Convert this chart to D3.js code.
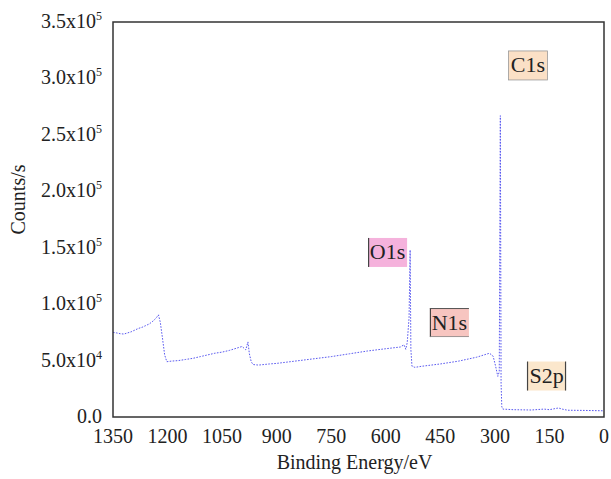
<!DOCTYPE html>
<html>
<head>
<meta charset="utf-8">
<script src="https://cdn.jsdelivr.net/npm/d3@7"></script>
<style>
  body { margin: 0; background: #fff; }
  text { font-family: "Liberation Serif", "DejaVu Serif", serif; fill: #222; }
</style>
</head>
<body>
<div id="chart"></div>
<script>
// spectrum (binding energy in eV, counts/s)
var energy = [1350, 1340, 1330, 1320, 1310, 1300, 1290, 1280, 1270, 1260, 1250, 1240, 1232, 1225,
  1220, 1214, 1208, 1202, 1190, 1170, 1150, 1130, 1110, 1090, 1070, 1050, 1030, 1010, 995, 985, 979,
  975, 970, 965, 950, 920, 900, 850, 800, 750, 700, 650, 600, 560, 550, 545, 541, 536, 533, 531,
  528, 520, 500, 450, 400, 350, 315, 305, 298, 292, 288, 285, 283, 281, 278, 250, 200, 165, 150,
  125, 115, 100, 50, 0];
var counts = [75000, 74500, 73800, 73500, 74500, 75500, 77000, 78500, 79500, 81000, 82500, 85000, 87500, 90500,
  84000, 70000, 55000, 49000, 49500, 50000, 51000, 52000, 53500, 55000, 56500, 57500, 59000, 61000, 62500, 59500, 66500,
  56000, 49000, 46500, 46000, 47000, 47500, 49500, 51500, 53500, 56000, 58500, 60500, 62000, 64000, 60000, 66000, 88000, 148000, 60000,
  45000, 44000, 45000, 47000, 49500, 53000, 56500, 54000, 45000, 36000, 40000, 267000, 30000, 9000, 7000, 6500, 6200, 7000, 6500,
  8000, 7000, 6000, 5800, 5500];

var xTicks = [1350, 1200, 1050, 900, 750, 600, 450, 300, 150, 0];
var yTicks = [0, 50000, 100000, 150000, 200000, 250000, 300000, 350000];
var yMant = ["0.0", "5.0x10", "1.0x10", "1.5x10", "2.0x10", "2.5x10", "3.0x10", "3.5x10"];
var yExp = ["", "4", "5", "5", "5", "5", "5", "5"];

var peakNames = ["C1s", "O1s", "N1s", "S2p"];
var peakX = [209, 595, 425, 158];
var peakY = [311500, 145800, 83700, 36300];
var peakFill = ["#fbe0c6", "#f5b2dc", "#f7c5c0", "#fbe7cc"];

var W = 611, H = 479;
var margin = {top: 22, right: 7, bottom: 62, left: 113};
var width = W - margin.left - margin.right,
    height = H - margin.top - margin.bottom;

var svg = d3.select("#chart").append("svg")
  .attr("width", W).attr("height", H)
  .append("g")
  .attr("transform", "translate(" + margin.left + "," + margin.top + ")");

var x = d3.scaleLinear().domain([1350, 0]).range([0, width]);
var y = d3.scaleLinear().domain([0, 350000]).range([height, 0]);

// spectrum
var pts = energy.map(function(e, i){ return [e, counts[i]]; });
var line = d3.line()
  .x(function(d){ return x(d[0]); })
  .y(function(d){ return y(d[1]); });

svg.append("path")
  .datum(pts)
  .attr("d", line)
  .attr("fill", "none")
  .attr("stroke", "#5a5af0")
  .attr("stroke-width", 1)
  .attr("stroke-dasharray", "1.6,1.4");

// frame, no tick marks
svg.append("rect")
  .attr("width", width).attr("height", height)
  .attr("fill", "none")
  .attr("stroke", "#333")
  .attr("stroke-width", 1.5);

// x tick labels
svg.selectAll(".xt")
  .data(xTicks)
  .enter().append("text")
    .attr("x", function(d){ return x(d); })
    .attr("y", height + 26)
    .attr("text-anchor", "middle")
    .style("font-size", "20px")
    .text(function(d){ return d; });

// y tick labels with superscript exponent
var yl = svg.selectAll(".yt")
  .data(yTicks)
  .enter().append("text")
    .attr("x", -11)
    .attr("y", function(d){ return y(d) + 6; })
    .attr("text-anchor", "end")
    .style("font-size", "20px");
yl.append("tspan").text(function(d, i){ return yMant[i]; });
yl.append("tspan")
  .attr("dy", -8)
  .style("font-size", "12px")
  .text(function(d, i){ return yExp[i]; });

// axis titles
svg.append("text")
  .attr("transform", "translate(" + (-88) + "," + (height / 2 - 20) + ") rotate(-90)")
  .attr("text-anchor", "middle")
  .style("font-size", "20px")
  .text("Counts/s");

svg.append("text")
  .attr("x", width / 2 - 4)
  .attr("y", height + 52)
  .attr("text-anchor", "middle")
  .style("font-size", "20px")
  .text("Binding Energy/eV");

// peak labels
var bw = 39, bh = 29;
var lab = svg.selectAll(".peak")
  .data(peakNames)
  .enter().append("g")
    .attr("transform", function(d, i){
      return "translate(" + (x(peakX[i]) - bw / 2) + "," + (y(peakY[i]) - bh / 2) + ")";
    });
lab.append("rect")
  .attr("width", bw).attr("height", bh)
  .attr("fill", function(d, i){ return peakFill[i]; })
  .attr("stroke", function(d){ return d === "C1s" ? "#999" : "none"; })
  .attr("stroke-width", 0.8);
lab.filter(function(d){ return d !== "C1s"; }).append("line")
  .attr("x1", 0.5).attr("x2", 0.5).attr("y1", 0).attr("y2", bh)
  .attr("stroke", "#444").attr("stroke-width", 1.2);
lab.filter(function(d){ return d === "S2p"; }).append("line")
  .attr("x1", bw - 0.5).attr("x2", bw - 0.5).attr("y1", 0).attr("y2", bh)
  .attr("stroke", "#444").attr("stroke-width", 1.2);
lab.filter(function(d){ return d === "N1s"; }).append("line")
  .attr("x1", 0).attr("x2", bw).attr("y1", 0.5).attr("y2", 0.5)
  .attr("stroke", "#555").attr("stroke-width", 1);
lab.filter(function(d){ return d === "N1s"; }).append("line")
  .attr("x1", 0).attr("x2", bw).attr("y1", bh - 0.5).attr("y2", bh - 0.5)
  .attr("stroke", "#888").attr("stroke-width", 0.8);
lab.append("text")
  .attr("x", bw / 2)
  .attr("y", bh / 2 + 7)
  .attr("text-anchor", "middle")
  .style("font-size", "22px")
  .text(function(d){ return d; });
</script>
</body>
</html>
